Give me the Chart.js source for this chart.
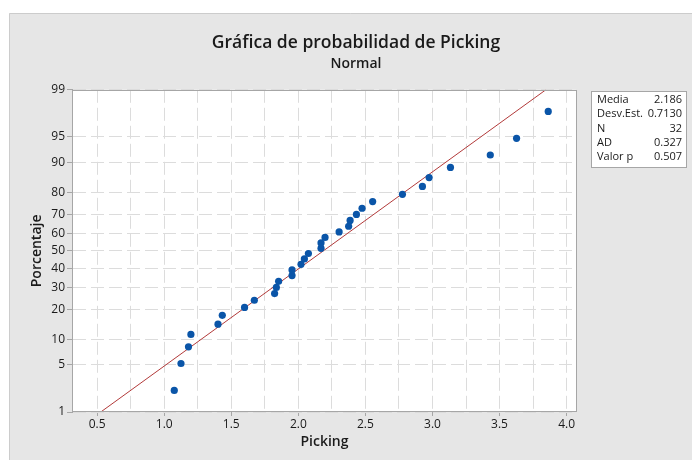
<!DOCTYPE html>
<html>
<head>
<meta charset="utf-8">
<script src="https://cdn.jsdelivr.net/npm/chart.js@4.4.1/dist/chart.umd.min.js"></script>
<style>
  body { margin: 0; background: #fff; }
  #wrap { width: 692px; height: 460px; }
</style>
</head>
<body>
<div id="wrap"><canvas id="probChart" width="692" height="460"></canvas></div>
<script>
// valores
let picking = [1.075, 1.125, 1.181, 1.199, 1.401, 1.433, 1.599, 1.672, 1.823, 1.836,
               1.853, 1.953, 1.953, 2.020, 2.045, 2.075, 2.169, 2.169, 2.199, 2.304,
               2.375, 2.386, 2.433, 2.475, 2.554, 2.776, 2.925, 2.975, 3.134, 3.431,
               3.627, 3.863];
let porcentaje = [2.2, 5.2, 8.3, 11.4, 14.5, 17.6, 20.7, 23.8, 26.9, 29.9,
                  33.0, 36.1, 39.2, 42.3, 45.4, 48.5, 51.5, 54.6, 57.7, 60.8,
                  63.9, 67.0, 70.1, 73.1, 76.2, 79.3, 82.4, 85.5, 88.6, 91.7,
                  94.8, 97.8];

// recta ajustada (extremos)
let fitX = [0.527, 3.845];
let fitPct = [1, 99];

let yTickPct = [1, 5, 10, 20, 30, 40, 50, 60, 70, 80, 90, 95, 99];
let xTickVals = [0.5, 1.0, 1.5, 2.0, 2.5, 3.0, 3.5, 4.0];

let statLabels = ["Media", "Desv.Est.", "N", "AD", "Valor p"];
let statValues = ["2.186", "0.7130", "32", "0.327", "0.507"];

// inversa de la normal (Acklam) -> escala de probabilidad
function probit(p) {
    let a = [-3.969683028665376e+01, 2.209460984245205e+02, -2.759285104469687e+02, 1.383577518672690e+02, -3.066479806614716e+01, 2.506628277459239e+00];
    let b = [-5.447609879822406e+01, 1.615858368580409e+02, -1.556989798598866e+02, 6.680131188771972e+01, -1.328068155288572e+01];
    let c = [-7.784894002430293e-03, -3.223964580411365e-01, -2.400758277161838e+00, -2.549732539343734e+00, 4.374664141464968e+00, 2.938163982698783e+00];
    let d = [7.784695709041462e-03, 3.224671290700398e-01, 2.445134137142996e+00, 3.754408661907416e+00];
    let pl = 0.02425;
    if (p < pl) {
        let q = Math.sqrt(-2 * Math.log(p));
        return (((((c[0]*q+c[1])*q+c[2])*q+c[3])*q+c[4])*q+c[5]) / ((((d[0]*q+d[1])*q+d[2])*q+d[3])*q+1);
    }
    if (p > 1 - pl) {
        let q = Math.sqrt(-2 * Math.log(1 - p));
        return -(((((c[0]*q+c[1])*q+c[2])*q+c[3])*q+c[4])*q+c[5]) / ((((d[0]*q+d[1])*q+d[2])*q+d[3])*q+1);
    }
    let q = p - 0.5, r = q * q;
    return (((((a[0]*r+a[1])*r+a[2])*r+a[3])*r+a[4])*r+a[5])*q / (((((b[0]*r+b[1])*r+b[2])*r+b[3])*r+b[4])*r+1);
}

let FONT = "'Open Sans', 'Noto Sans', sans-serif";
let gridGray = '#dcdcdc';

// fondo gris, area blanca, marco y cuadro de estadisticas
let minitabLook = {
    id: 'minitabLook',
    beforeDraw(chart) {
        let ctx = chart.ctx;
        let a = chart.chartArea;
        ctx.save();
        ctx.fillStyle = '#ffffff';
        ctx.fillRect(0, 0, chart.width, chart.height);
        ctx.fillStyle = '#e6e6e6';
        ctx.fillRect(9, 13, chart.width - 9, chart.height - 13);
        ctx.strokeStyle = '#cccccc';
        ctx.lineWidth = 1;
        ctx.beginPath();
        ctx.moveTo(9.5, chart.height);
        ctx.lineTo(9.5, 13.5);
        ctx.lineTo(chart.width, 13.5);
        ctx.stroke();
        ctx.fillStyle = '#ffffff';
        ctx.fillRect(a.left, a.top, a.right - a.left, a.bottom - a.top);
        ctx.restore();
    },
    afterDraw(chart) {
        let ctx = chart.ctx;
        let a = chart.chartArea;
        ctx.save();
        ctx.strokeStyle = '#a6a6a6';
        ctx.lineWidth = 1;
        ctx.strokeRect(Math.round(a.left) - 0.5, Math.round(a.top) + 0.5,
                       Math.round(a.right - a.left) + 1, Math.round(a.bottom - a.top) - 1);

        // cuadro de estadisticas
        let bx = 591.5, by = 91.5, bw = 95, bh = 76;
        ctx.fillStyle = '#ffffff';
        ctx.fillRect(bx, by, bw, bh);
        ctx.strokeStyle = '#a6a6a6';
        ctx.strokeRect(bx, by, bw, bh);
        ctx.font = '11px ' + FONT;
        ctx.fillStyle = '#1a1a1a';
        ctx.textBaseline = 'middle';
        statLabels.forEach((lab, i) => {
            let y = 100 + i * 14.2;
            ctx.textAlign = 'left';
            ctx.fillText(lab, 597, y);
            ctx.textAlign = 'right';
            ctx.fillText(statValues[i], 682, y);
        });
        ctx.restore();
    }
};

let points = picking.map((x, i) => ({ x: x, y: probit(porcentaje[i] / 100) }));
let fitLine = fitX.map((x, i) => ({ x: x, y: probit(fitPct[i] / 100) }));

new Chart(document.getElementById('probChart').getContext('2d'), {
    type: 'scatter',
    data: {
        datasets: [{
            label: 'Ajuste',
            data: fitLine,
            showLine: true,
            borderColor: '#b23a3a',
            borderWidth: 1,
            pointRadius: 0,
            order: 2
        }, {
            label: 'Picking',
            data: points,
            backgroundColor: '#0a55a8',
            borderColor: '#0a55a8',
            borderWidth: 0,
            pointRadius: 3.6,
            order: 1
        }]
    },
    options: {
        responsive: false,
        animation: false,
        layout: { padding: { left: 20, right: 0, top: 0, bottom: 0 } },
        plugins: {
            legend: { display: false },
            tooltip: { enabled: false },
            title: {
                display: true,
                text: 'Gráfica de probabilidad de Picking',
                color: '#1a1a1a',
                font: { family: FONT, size: 17.5, weight: '600' },
                padding: { top: 33, bottom: 2 }
            },
            subtitle: {
                display: true,
                text: 'Normal',
                color: '#1a1a1a',
                font: { family: FONT, size: 14, weight: '600' },
                padding: { top: 0, bottom: 17 }
            }
        },
        scales: {
            x: {
                type: 'linear',
                min: 0.32,
                max: 4.07,
                afterBuildTicks: s => {
                    let t = [];
                    for (let v = 0.5; v <= 4.001; v += 0.25) t.push({ value: Math.round(v * 100) / 100 });
                    s.ticks = t;
                },
                afterFit: s => { s.height = 48; },
                ticks: {
                    color: '#1a1a1a',
                    font: { family: FONT, size: 12 },
                    padding: 1,
                    maxRotation: 0,
                    autoSkip: false,
                    callback: v => (xTickVals.includes(v) ? v.toFixed(1) : '')
                },
                grid: {
                    color: gridGray,
                    tickLength: 4,
                    tickColor: c => (xTickVals.includes(c.tick.value) ? '#a6a6a6' : 'rgba(0,0,0,0)')
                },
                border: { display: false, dash: [13, 5] },
                title: {
                    display: true,
                    text: 'Picking',
                    color: '#1a1a1a',
                    font: { family: FONT, size: 14, weight: '600' },
                    padding: { top: 0, bottom: 10 }
                }
            },
            y: {
                type: 'linear',
                min: probit(0.01),
                max: probit(0.99),
                afterBuildTicks: s => {
                    s.ticks = yTickPct.map(p => ({ value: probit(p / 100) }));
                },
                afterFit: s => { s.width = 53; },
                ticks: {
                    color: '#1a1a1a',
                    font: { family: FONT, size: 12 },
                    padding: 2,
                    autoSkip: false,
                    callback: (v, i) => yTickPct[i]
                },
                grid: {
                    color: gridGray,
                    tickLength: 6,
                    tickColor: '#a6a6a6'
                },
                border: { display: false, dash: [13, 5] },
                title: {
                    display: true,
                    text: 'Porcentaje',
                    color: '#1a1a1a',
                    font: { family: FONT, size: 14, weight: '600' },
                    padding: { top: 9, bottom: 0 }
                }
            },
            yR: {
                position: 'right',
                min: 0,
                max: 1,
                ticks: { display: false },
                grid: { display: false, drawTicks: false },
                border: { display: false },
                afterFit: s => { s.width = 116; }
            }
        }
    },
    plugins: [minitabLook]
});
</script>
</body>
</html>
